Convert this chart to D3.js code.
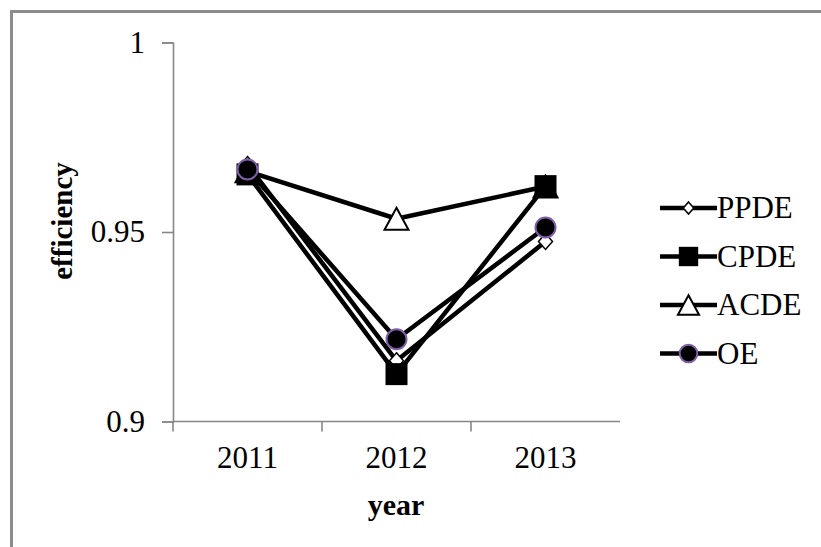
<!DOCTYPE html>
<html>
<head>
<meta charset="utf-8">
<script src="https://cdn.jsdelivr.net/npm/d3@7"></script>
<style>
  html, body { margin: 0; padding: 0; background: #fff; }
  svg { display: block; }
</style>
</head>
<body>
<svg id="chart" width="821" height="547"></svg>
<script>
// Efficiency by year for four measures
const years = ["2011", "2012", "2013"];
const ppde = [0.9678, 0.9160, 0.9475];
const cpde = [0.9652, 0.9125, 0.9621];
const acde = [0.9660, 0.9535, 0.9620];
const oe   = [0.9665, 0.9217, 0.9512];
const yTicks = [0.9, 0.95, 1];
const yTickLabels = ["0.9", "0.95", "1"];

const series = [
  { name: "PPDE", values: ppde, marker: "diamond" },
  { name: "CPDE", values: cpde, marker: "square" },
  { name: "ACDE", values: acde, marker: "triangle" },
  { name: "OE",   values: oe,   marker: "circle" }
];
// markers stack with squares over open shapes and circles on top
const markerOrder = ["PPDE", "ACDE", "CPDE", "OE"];

const svg = d3.select("#chart");
const serif = "'Liberation Serif', 'Times New Roman', serif";
const axisGray = "#878787";

// outer frame (extends past the canvas on the right and bottom)
svg.append("rect")
  .attr("x", 11.5).attr("y", 11.5)
  .attr("width", 900).attr("height", 700)
  .attr("fill", "none")
  .attr("stroke", "#8c8c8c")
  .attr("stroke-width", 3);

const plot = { left: 173, right: 620, top: 42.5, bottom: 421.5 };

const x = d3.scaleBand().domain(years).range([plot.left, plot.right]).padding(0);
const y = d3.scaleLinear().domain([0.9, 1]).range([plot.bottom, plot.top]);
const cx = d => x(d) + x.bandwidth() / 2;

// y axis
const yAxis = svg.append("g")
  .attr("transform", `translate(${plot.left},0)`)
  .call(d3.axisLeft(y).tickValues(yTicks)
    .tickFormat((d, i) => yTickLabels[i]).tickSize(11).tickPadding(17));
yAxis.select(".domain").attr("stroke", axisGray).attr("stroke-width", 1.6);
yAxis.selectAll(".tick line").attr("stroke", axisGray).attr("stroke-width", 1.6);
yAxis.selectAll(".tick text")
  .attr("font-family", serif).attr("font-size", 31).attr("fill", "#000");

// x axis: labels centred in bands, ticks at band edges
const xAxis = svg.append("g")
  .attr("transform", `translate(0,${plot.bottom})`)
  .call(d3.axisBottom(x).tickSize(0).tickPadding(24));
xAxis.select(".domain").remove();
xAxis.selectAll(".tick text")
  .attr("font-family", serif).attr("font-size", 31).attr("fill", "#000");
svg.append("line")
  .attr("x1", plot.left).attr("x2", plot.right)
  .attr("y1", plot.bottom).attr("y2", plot.bottom)
  .attr("stroke", axisGray).attr("stroke-width", 1.6);
const edges = years.map(d => x(d));
svg.selectAll(".xedge").data(edges).enter().append("line")
  .attr("class", "xedge")
  .attr("x1", d => d).attr("x2", d => d)
  .attr("y1", plot.bottom).attr("y2", plot.bottom + 10)
  .attr("stroke", axisGray).attr("stroke-width", 1.6);

// axis titles
svg.append("text")
  .attr("x", 396).attr("y", 515)
  .attr("text-anchor", "middle")
  .attr("font-family", serif).attr("font-weight", "bold").attr("font-size", 30)
  .text("year");
svg.append("text")
  .attr("transform", "translate(72,221) rotate(-90)")
  .attr("text-anchor", "middle")
  .attr("font-family", serif).attr("font-weight", "bold").attr("font-size", 29)
  .text("efficiency");

// marker drawing
function drawMarker(g, type, px, py, scale) {
  const s = scale || 1;
  if (type === "diamond") {
    const hw = 7 * s, hh = 8 * s;
    g.append("path")
      .attr("d", `M${px},${py - hh}L${px + hw},${py}L${px},${py + hh}L${px - hw},${py}Z`)
      .attr("fill", "#fff").attr("stroke", "#000").attr("stroke-width", 1.5);
  } else if (type === "square") {
    const h = 11 * s;
    g.append("rect")
      .attr("x", px - h).attr("y", py - h)
      .attr("width", 2 * h).attr("height", 2 * h)
      .attr("fill", "#000");
  } else if (type === "triangle") {
    const hw = 12 * s, hh = 11 * s;
    g.append("path")
      .attr("d", `M${px},${py - hh}L${px + hw},${py + hh}L${px - hw},${py + hh}Z`)
      .attr("fill", "#fff").attr("stroke", "#000").attr("stroke-width", 2);
  } else if (type === "circle") {
    g.append("circle")
      .attr("cx", px).attr("cy", py).attr("r", 10 * s)
      .attr("fill", "#000").attr("stroke", "#7e5ea6").attr("stroke-width", 2);
  }
}

const line = d3.line().x((d, i) => cx(years[i])).y(d => y(d));
const linesG = svg.append("g");
series.forEach(s => {
  linesG.append("path")
    .attr("d", line(s.values))
    .attr("fill", "none")
    .attr("stroke", "#000")
    .attr("stroke-width", 4.5)
    .attr("stroke-linejoin", "round");
});

const markersG = svg.append("g");
markerOrder.forEach(name => {
  const s = series.find(d => d.name === name);
  s.values.forEach((v, i) => drawMarker(markersG, s.marker, cx(years[i]), y(v), 1));
});

// legend
const legend = svg.append("g");
series.forEach((s, i) => {
  const ly = 208 + i * 48.5;
  legend.append("line")
    .attr("x1", 660).attr("x2", 717)
    .attr("y1", ly).attr("y2", ly)
    .attr("stroke", "#000").attr("stroke-width", 4.5);
  drawMarker(legend, s.marker, 688.5, ly, s.marker === "diamond" ? 0.75 : 0.88);
  legend.append("text")
    .attr("x", 717).attr("y", ly + 10)
    .attr("font-family", serif).attr("font-size", 31)
    .text(s.name);
});
</script>
</body>
</html>
